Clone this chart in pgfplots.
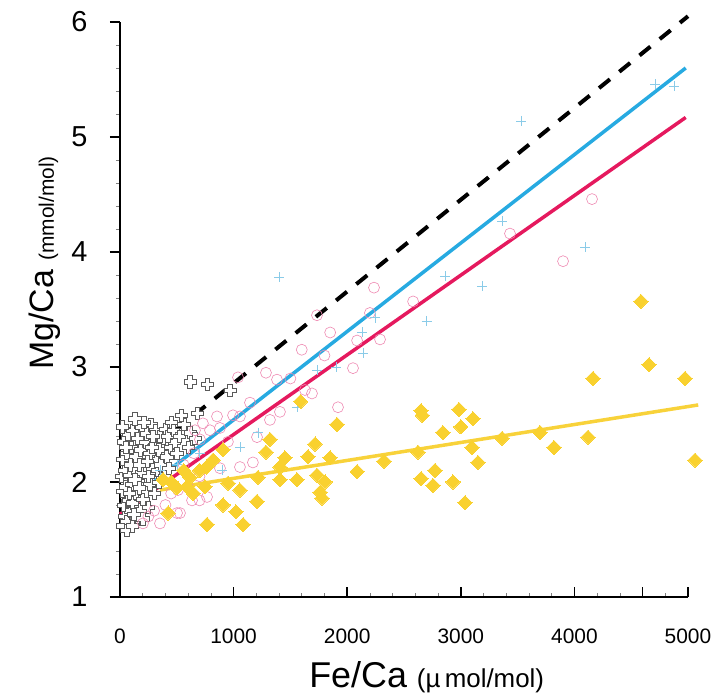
\documentclass[border=0pt]{standalone}
\usepackage{fontspec}
\setmainfont{Liberation Sans}
\usepackage{pgfplots}
\pgfplotsset{compat=1.18}
\definecolor{pinkline}{HTML}{E5195E}
\definecolor{blueline}{HTML}{27AAE1}
\definecolor{yelline}{HTML}{F8D23A}
\definecolor{yelmark}{HTML}{F9D12F}
\definecolor{pinkmark}{HTML}{EE8AB2}
\definecolor{bluemark}{HTML}{8ACBE8}
\definecolor{crossgray}{HTML}{5A5A5A}
\pgfdeclareplotmark{hplus}{%
  \pgfpathmoveto{\pgfqpoint{-0.36\pgfplotmarksize}{\pgfplotmarksize}}%
  \pgfpathlineto{\pgfqpoint{0.36\pgfplotmarksize}{\pgfplotmarksize}}%
  \pgfpathlineto{\pgfqpoint{0.36\pgfplotmarksize}{0.36\pgfplotmarksize}}%
  \pgfpathlineto{\pgfqpoint{\pgfplotmarksize}{0.36\pgfplotmarksize}}%
  \pgfpathlineto{\pgfqpoint{\pgfplotmarksize}{-0.36\pgfplotmarksize}}%
  \pgfpathlineto{\pgfqpoint{0.36\pgfplotmarksize}{-0.36\pgfplotmarksize}}%
  \pgfpathlineto{\pgfqpoint{0.36\pgfplotmarksize}{-\pgfplotmarksize}}%
  \pgfpathlineto{\pgfqpoint{-0.36\pgfplotmarksize}{-\pgfplotmarksize}}%
  \pgfpathlineto{\pgfqpoint{-0.36\pgfplotmarksize}{-0.36\pgfplotmarksize}}%
  \pgfpathlineto{\pgfqpoint{-\pgfplotmarksize}{-0.36\pgfplotmarksize}}%
  \pgfpathlineto{\pgfqpoint{-\pgfplotmarksize}{0.36\pgfplotmarksize}}%
  \pgfpathlineto{\pgfqpoint{-0.36\pgfplotmarksize}{0.36\pgfplotmarksize}}%
  \pgfpathclose
  \pgfusepathqfillstroke
}
\begin{document}
\begin{tikzpicture}
\begin{axis}[
  scale only axis, width=568bp, height=575bp,
  xmin=0, xmax=5000, ymin=1, ymax=6,
  axis lines=left, axis line style={line width=1.6bp, -},
  clip=false,
  xtick={0,1000,...,5000}, ytick={1,2,...,6},
  extra x ticks={4600}, extra x tick labels={},
  minor x tick num=4, minor y tick num=4,
  xtick align=inside, ytick align=outside,
  major tick length=10bp, minor tick length=4bp,
  every major tick/.append style={line width=1.6bp, black},
  every minor tick/.append style={line width=0.6bp, gray},
  /pgf/number format/assume math mode=true,
  /pgf/number format/set thousands separator={},
  xticklabel style={font=\fontsize{21}{21}\selectfont, yshift=-28bp},
  yticklabel style={font=\fontsize{29}{29}\selectfont, xshift=-19bp},
  xlabel={\fontsize{36}{36}\selectfont Fe/Ca \fontsize{26}{26}\selectfont(µ\,mol/mol)},
  ylabel={\fontsize{34}{34}\selectfont Mg/Ca \fontsize{21}{21}\selectfont(mmol/mol)},
  xlabel style={at={(axis description cs:0.54,-0.139)}, anchor=center},
  ylabel style={at={(axis description cs:-0.132,0.581)}, anchor=center},
]
\coordinate (bl) at (rel axis cs:0,0);
% black open crosses
\addplot[only marks, mark=hplus, mark size=6.2bp, mark options={draw=crossgray, fill=white, line width=0.5bp}] coordinates {
(20,1.62)(40,1.70)(60,1.66)(90,1.75)(30,1.80)(70,1.84)(110,1.82)(140,1.90)(20,1.92)(50,1.96)
(100,1.98)(150,1.68)(180,1.76)(200,1.85)(230,1.92)(260,1.98)(10,2.05)(40,2.10)(80,2.06)(120,2.12)
(160,2.02)(190,2.08)(220,2.15)(250,2.05)(290,2.12)(320,2.20)(20,2.20)(60,2.25)(100,2.30)(140,2.22)
(180,2.28)(220,2.35)(260,2.25)(300,2.32)(340,2.28)(380,2.38)(30,2.35)(70,2.42)(110,2.45)(150,2.38)
(190,2.48)(230,2.42)(270,2.50)(310,2.45)(350,2.40)(400,2.46)(450,2.52)(130,2.55)(210,2.52)(90,2.15)
(130,2.02)(170,2.15)(240,2.18)(280,2.30)(330,2.10)(360,2.15)(410,2.22)(440,2.30)(480,2.35)(500,2.25)
(60,1.58)(110,1.62)(200,1.68)(250,1.78)(300,1.90)(340,2.00)(390,2.05)(430,2.12)(20,2.48)(50,2.30)
(80,1.90)(120,1.72)(170,1.95)(290,2.40)(420,2.40)(470,2.45)(520,2.40)(560,2.50)(600,2.30)(616,2.43)
(660,2.38)(678,2.60)(616,2.87)(770,2.85)(968,2.80)(540,2.58)
};
% pink open circles
\addplot[only marks, mark=o, mark size=5.5bp, mark options={draw=pinkmark, line width=0.6bp}] coordinates {
(202,1.64)(352,1.64)(502,1.73)(528,1.73)(634,1.84)(700,1.84)(766,1.87)(510,1.93)(400,1.80)(300,1.75)
(250,1.70)(450,1.90)(600,1.95)(700,2.05)(880,2.12)(1056,2.13)(1170,2.17)(704,2.37)(660,2.45)(730,2.51)
(792,2.45)(880,2.47)(854,2.57)(995,2.58)(1056,2.57)(1206,2.39)(1144,2.69)(1320,2.54)(1408,2.61)(1039,2.91)
(1285,2.95)(1382,2.89)(1628,2.80)(1690,2.77)(1919,2.65)(1734,3.45)(2051,2.99)(2087,3.23)(2289,3.24)(2200,3.47)
(2236,3.69)(2580,3.57)(3433,4.16)(3900,3.92)(4155,4.46)(560,2.15)(650,2.25)(950,2.35)(1500,2.90)(1600,3.15)
(1800,3.10)(1850,3.30)
};
% blue plus
\addplot[only marks, mark=+, mark size=5bp, mark options={draw=bluemark, line width=0.5bp}] coordinates {
(4710,5.46)(4877,5.44)(3530,5.14)(3363,4.27)(4093,4.04)(3187,3.70)(2861,3.79)(1400,3.78)(2245,3.43)(2139,3.12)
(2130,3.30)(1734,2.97)(1558,2.65)(1215,2.43)(1056,2.30)(350,2.10)(500,2.15)(700,2.25)(900,2.10)(2700,3.40)
(1900,3.00)
};
% yellow diamonds
\addplot[only marks, color=yelmark, mark=square*, mark size=5bp, mark options={rotate=45, draw=yelmark, fill=yelmark, line width=0pt}] coordinates {
(4586,3.57)(4657,3.02)(4164,2.90)(4974,2.90)(5062,2.19)(4120,2.39)(3820,2.30)(3697,2.43)(3363,2.38)(3151,2.17)
(3099,2.30)(3107,2.55)(3000,2.48)(2984,2.63)(2843,2.43)(2650,2.62)(2660,2.58)(2623,2.26)(2773,2.10)(2650,2.03)
(2755,1.97)(2931,2.00)(3037,1.82)(2324,2.18)(2087,2.09)(1910,2.50)(1717,2.33)(1655,2.22)(1849,2.21)(1452,2.21)
(1408,2.13)(1320,2.37)(1285,2.26)(1734,2.06)(1805,2.00)(1761,1.91)(1778,1.86)(1558,2.02)(1408,2.02)(1215,2.04)
(951,1.99)(1056,1.93)(1206,1.83)(907,1.80)(1021,1.74)(1083,1.63)(766,1.63)(1590,2.70)(907,2.28)(820,2.19)
(763,2.13)(616,2.04)(590,1.96)(645,1.90)(748,1.96)(423,1.73)(450,2.00)(500,1.95)(380,2.02)(560,2.10)
(700,2.10)
};
% regression lines
\addplot[black, line width=4bp, dash pattern=on 14bp off 12bp] coordinates {(300,2.30)(5000,6.05)};
\addplot[blueline, line width=3.5bp] coordinates {(180,1.91)(4980,5.60)};
\addplot[pinkline, line width=3.5bp] coordinates {(0,1.72)(4980,5.17)};
\addplot[yelline, line width=3.5bp] coordinates {(350,1.93)(5090,2.67)};
\end{axis}
\pgfresetboundingbox
\path (bl) ++(-120bp,-99bp) rectangle ++(716bp,696bp);
\end{tikzpicture}
\end{document}
